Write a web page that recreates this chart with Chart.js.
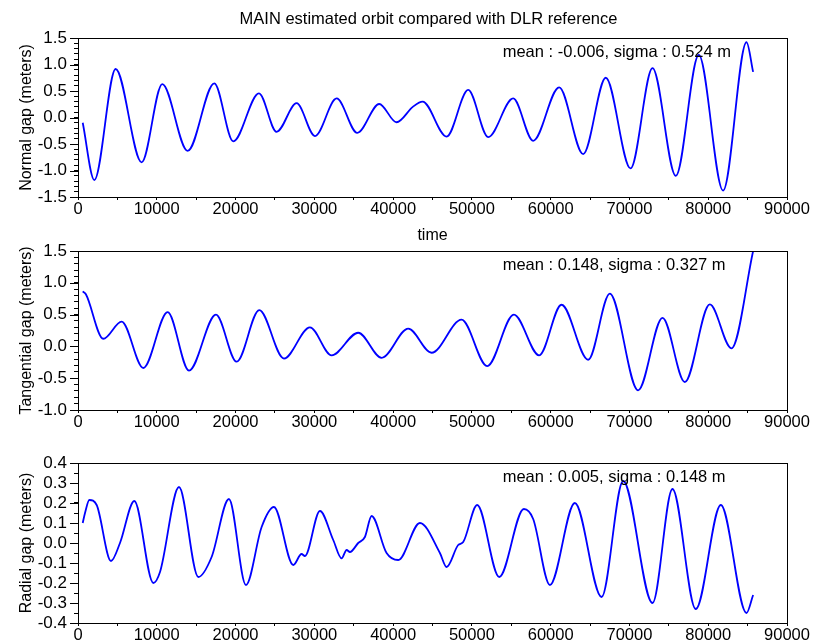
<!DOCTYPE html>
<html>
<head>
<meta charset="utf-8">
<script src="https://cdn.jsdelivr.net/npm/chart.js@4.4.1/dist/chart.umd.min.js"></script>
<style>
  body { margin: 0; background: #fff; }
  #wrap { position: relative; width: 815px; height: 642px; }
  canvas { position: absolute; left: 0; }
</style>
</head>
<body>
<div id="wrap">
  <canvas id="normal" width="815" height="245" style="top:0"></canvas>
  <canvas id="tangential" width="815" height="215" style="top:225px"></canvas>
  <canvas id="radial" width="815" height="202" style="top:440px"></canvas>
</div>
<script>
// values (time in s, gaps in meters)
const normalTime = [600, 2070, 4780, 8080, 10700, 13920, 17300, 19710, 22970, 25210, 27750, 30080,
  32830, 35450, 38240, 40440, 42500, 43740, 46790, 49530, 52070, 55240, 57780, 61080, 64130,
  67000, 70140, 72930, 75890, 78800, 81890, 84860, 85700];
const normalGap = [-0.10, -1.18, 0.915, -0.845, 0.63, -0.63, 0.645, -0.45, 0.457, -0.27, 0.27, -0.35,
  0.36, -0.29, 0.255, -0.09, 0.2, 0.30, -0.36, 0.52, -0.37, 0.36, -0.44, 0.57, -0.69,
  0.75, -0.96, 0.93, -1.10, 1.18, -1.38, 1.42, 0.86];

const tangentialTime = [600, 1000, 3210, 5540, 8290, 11380, 14090, 17510, 20140, 23010, 26140, 29440,
  32190, 35570, 38540, 41920, 44880, 48690, 51940, 55330, 58540, 61380, 64760, 67510, 71100,
  74200, 77030, 80200, 82950, 85700];
const tangentialGap = [0.865, 0.82, 0.12, 0.39, -0.34, 0.54, -0.38, 0.50, -0.24, 0.57, -0.19, 0.30,
  -0.14, 0.215, -0.18, 0.28, -0.10, 0.42, -0.31, 0.50, -0.14, 0.655, -0.21, 0.83, -0.69,
  0.45, -0.56, 0.66, -0.03, 1.5];

const radialTime = [600, 890, 1440, 2370, 4190, 5330, 7150, 9560, 10410, 12820, 15270, 16960, 19160,
  21320, 23310, 24870, 27330, 28380, 28800, 30710, 32400, 33460, 34100, 34520, 35570, 36420,
  37270, 39170, 40650, 43400, 45940, 46790, 48260, 48900, 50670, 53470, 56600, 57780, 59900,
  63070, 66460, 69200, 72930, 75460, 78420, 81600, 84860, 85700];
const radialGap = [0.10, 0.15, 0.215, 0.19, -0.09, 0.0, 0.21, -0.20, -0.145, 0.28, -0.17, -0.07, 0.22,
  -0.21, 0.08, 0.18, -0.11, -0.055, -0.065, 0.16, 0.015, -0.077, -0.035, -0.045, 0.0, 0.03,
  0.135, -0.05, -0.085, 0.10, -0.05, -0.12, -0.01, 0.005, 0.19, -0.17, 0.17, 0.12, -0.21,
  0.20, -0.27, 0.31, -0.30, 0.27, -0.33, 0.19, -0.35, -0.26];

const fam = '"Liberation Sans", Arial, sans-serif';

// box around plot area, longer major ticks on y, text notes
const framePlugin = {
  id: 'frame',
  afterDraw(chart, args, opts) {
    const { ctx, chartArea: a } = chart;
    const y = chart.scales.y;
    ctx.save();
    ctx.strokeStyle = '#000';
    ctx.lineWidth = 1;
    ctx.strokeRect(a.left + 0.5, a.top + 0.5, a.width, a.height);
    ctx.beginPath();
    y.ticks.forEach(t => {
      if (t.label === '') return;
      const py = Math.round(y.getPixelForValue(t.value)) + 0.5;
      ctx.moveTo(a.left - 8, py);
      ctx.lineTo(a.left, py);
    });
    ctx.stroke();
    ctx.fillStyle = '#000';
    ctx.font = '16.5px ' + fam;
    ctx.textBaseline = 'middle';
    ctx.fillText(opts.note, a.left + a.width * 0.599, a.top + 14);
    if (opts.heading) {
      ctx.textAlign = 'center';
      ctx.fillText(opts.heading, (a.left + a.right) / 2 - 4, 19);
    }
    ctx.restore();
  }
};

function makePlot(id, times, gaps, o) {
  new Chart(document.getElementById(id), {
    type: 'line',
    data: {
      datasets: [{
        data: times.map((t, i) => ({ x: t, y: gaps[i] })),
        borderColor: '#0000ff',
        borderWidth: 1.8,
        pointRadius: 0,
        cubicInterpolationMode: 'monotone'
      }]
    },
    options: {
      responsive: false,
      animation: false,
      layout: { padding: { left: 0, right: 28, top: o.top, bottom: 0 } },
      plugins: {
        legend: { display: false },
        tooltip: { enabled: false },
        frame: { note: o.note, heading: o.heading }
      },
      scales: {
        x: {
          type: 'linear',
          min: 0,
          max: 90000,
          ticks: {
            stepSize: 5000,
            autoSkip: false,
            maxRotation: 0,
            padding: 0,
            color: '#000',
            font: { size: 16.5, family: fam },
            callback: v => (v % 10000 === 0 ? String(v) : '')
          },
          grid: { drawOnChartArea: false, tickLength: 3, color: '#000' },
          border: { color: '#000' },
          title: {
            display: !!o.xTitle,
            text: o.xTitle || '',
            color: '#000',
            font: { size: 16, family: fam },
            padding: 0
          },
          afterFit: s => { s.height = o.xh; }
        },
        y: {
          min: o.min,
          max: o.max,
          ticks: {
            stepSize: o.minor,
            autoSkip: false,
            padding: 7,
            color: '#000',
            font: { size: 17, family: fam },
            callback: v => {
              const k = v / o.major;
              return Math.abs(k - Math.round(k)) < 1e-6 ? v.toFixed(1) : '';
            }
          },
          grid: { drawOnChartArea: false, tickLength: 4, color: '#000' },
          border: { color: '#000' },
          title: {
            display: true,
            text: o.yTitle,
            color: '#000',
            font: { size: 16, family: fam },
            padding: { top: 17, bottom: 0 }
          },
          afterFit: s => { s.width = 78; }
        }
      }
    },
    plugins: [framePlugin]
  });
}

makePlot('normal', normalTime, normalGap, {
  top: 38, xh: 48, min: -1.5, max: 1.5, major: 0.5, minor: 0.1,
  yTitle: 'Normal gap (meters)', xTitle: 'time',
  note: 'mean : -0.006, sigma : 0.524 m',
  heading: 'MAIN estimated orbit compared with DLR reference'
});
makePlot('tangential', tangentialTime, tangentialGap, {
  top: 26, xh: 30, min: -1.0, max: 1.5, major: 0.5, minor: 0.1,
  yTitle: 'Tangential gap (meters)',
  note: 'mean : 0.148, sigma : 0.327 m'
});
makePlot('radial', radialTime, radialGap, {
  top: 23, xh: 19, min: -0.4, max: 0.4, major: 0.1, minor: 0.05,
  yTitle: 'Radial gap (meters)',
  note: 'mean : 0.005, sigma : 0.148 m'
});
</script>
</body>
</html>
